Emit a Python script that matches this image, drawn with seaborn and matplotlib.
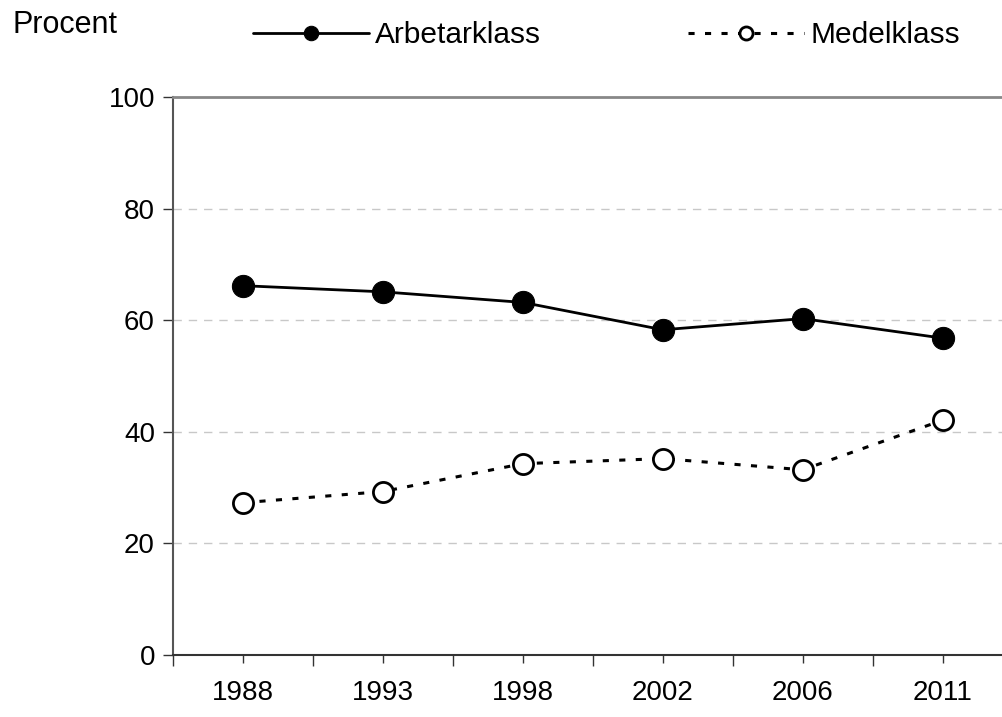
import matplotlib
matplotlib.use("Agg")
import matplotlib.pyplot as plt
import seaborn as sns
import numpy as np
from matplotlib.ticker import FixedLocator

years = ["1988", "1993", "1998", "2002", "2006", "2011"]
arbetarklass = [66.2, 65.1, 63.2, 58.3, 60.3, 56.8]
medelklass = [27.3, 29.3, 34.3, 35.2, 33.2, 42.1]
y_ticks = [0, 20, 40, 60, 80, 100]

sns.set_style("white")
plt.rcParams['font.family'] = ['Liberation Sans', 'DejaVu Sans']
plt.rcParams['text.color'] = 'black'
plt.rcParams['xtick.color'] = 'black'
plt.rcParams['ytick.color'] = 'black'

fig = plt.figure(figsize=(10.02, 7.17), dpi=100)
ax = fig.add_axes([0.1727, 0.0865, 0.838, 0.778])

pos = np.arange(len(years))
sns.lineplot(x=pos, y=arbetarklass, ax=ax, color='black', linewidth=2,
             marker='o', markersize=16, markerfacecolor='black',
             markeredgecolor='black', label='Arbetarklass')
sns.lineplot(x=pos, y=medelklass, ax=ax, color='black', linewidth=2.2,
             linestyle=(0, (2, 3.4)), marker='o', markersize=14.5,
             markerfacecolor='white', markeredgecolor='black',
             markeredgewidth=2, label='Medelklass')

ax.set_xlim(-0.5, 5.5)
ax.set_ylim(0, 100)
ax.set_yticks(y_ticks)
ax.set_yticklabels([str(t) for t in y_ticks], fontsize=20)
ax.set_xticks(pos)
ax.set_xticklabels(years, fontsize=20)
ax.xaxis.set_minor_locator(FixedLocator(np.arange(-0.5, 6, 1)))
ax.tick_params(axis='x', which='major', length=6, width=1, color='#333333',
               direction='out', pad=12, bottom=True)
ax.tick_params(axis='x', which='minor', length=8, width=1, color='#333333',
               direction='out', bottom=True)
ax.tick_params(axis='y', length=7, width=1, color='#333333',
               direction='out', pad=6, left=True)

for y in [20, 40, 60, 80]:
    ax.axhline(y, color='#c8c8c8', linewidth=1, linestyle=(0, (6, 5)), zorder=0)

ax.spines['left'].set_color('#555555')
ax.spines['left'].set_linewidth(1.5)
ax.spines['bottom'].set_color('#333333')
ax.spines['bottom'].set_linewidth(1.5)
ax.spines['top'].set_color('#888888')
ax.spines['top'].set_linewidth(2)
ax.spines['right'].set_visible(False)
ax.set_xlabel('')
ax.set_ylabel('')

handles, labels = ax.get_legend_handles_labels()
ax.get_legend().remove()
fig.legend(handles, labels, loc='center left', bbox_to_anchor=(0.2405, 0.951),
           ncol=2, frameon=False, fontsize=21.5, handlelength=3.9,
           markerscale=0.65, columnspacing=4.9, handletextpad=0.2,
           borderaxespad=0)

fig.text(0.012, 0.965, 'Procent', fontsize=22, va='center', ha='left')

fig.savefig('out.png', dpi=100)
